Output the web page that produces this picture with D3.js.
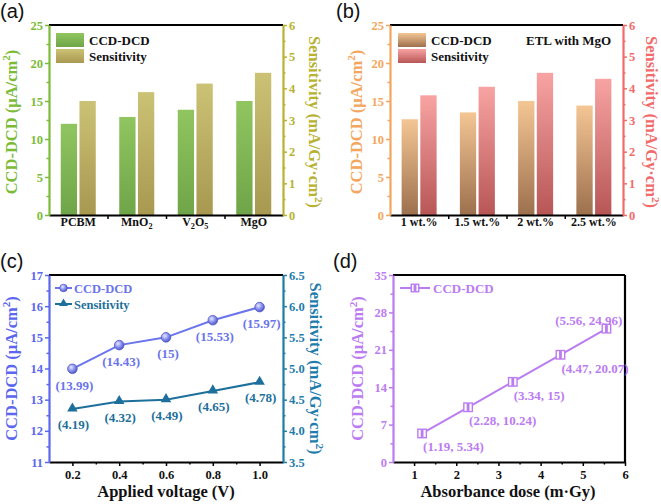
<!DOCTYPE html>
<html lang="en">
<head>
<meta charset="UTF-8">
<title>CCD-DCD and sensitivity panels</title>
<script src="https://d3js.org/d3.v7.min.js"></script>
<style>
    body { margin: 0; background: #fff; }
    svg { display: block; }
    text { font-family: 'Liberation Serif', 'Times New Roman', serif; font-weight: bold; }
    .plabel { font-family: 'Liberation Sans', Arial, sans-serif; font-weight: normal; font-size: 20px; }
</style>
</head>
<body>
<svg id="fig" width="661" height="504"></svg>
<script>
    // (a) ETL materials
    const catsA = ["PCBM", "MnO2", "V2O5", "MgO"];
    const ccdA = [12.0, 12.9, 13.85, 15.0];
    const sensA = [3.6, 3.88, 4.15, 4.49];

    // (b) MgO concentration
    const catsB = ["1 wt.%", "1.5 wt.%", "2 wt.%", "2.5 wt.%"];
    const ccdB = [12.6, 13.5, 15.0, 14.4];
    const sensB = [3.78, 4.05, 4.49, 4.3];

    // (c) applied voltage - marker heights as drawn, labels as printed
    const voltC = [0.2, 0.4, 0.6, 0.8, 1.0];
    const ccdC = [13.99, 14.75, 15, 15.55, 15.97];
    const sensC = [4.35, 4.47, 4.5, 4.64, 4.78];
    const ccdLabelsC = ["13.99", "14.43", "15", "15.53", "15.97"];
    const sensLabelsC = ["4.19", "4.32", "4.49", "4.65", "4.78"];

    // (d) dose
    const doseD = [1.19, 2.28, 3.34, 4.47, 5.56];
    const ccdD = [5.34, 10.24, 15, 20.07, 24.96];

    const svg = d3.select("#fig");
    const defs = svg.append("defs");

    function vGrad(id, top, bottom) {
        const g = defs.append("linearGradient").attr("id", id)
            .attr("x1", 0).attr("y1", 0).attr("x2", 0).attr("y2", 1);
        g.append("stop").attr("offset", "0%").attr("stop-color", top);
        g.append("stop").attr("offset", "100%").attr("stop-color", bottom);
    }
    vGrad("gA1", "#90c560", "#6fa548");
    vGrad("gA2", "#cbc275", "#a89850");
    vGrad("gB1", "#f4c694", "#9d704e");
    vGrad("gB2", "#f8a3a3", "#b85656");

    const rg = defs.append("radialGradient").attr("id", "ball").attr("cx", "38%").attr("cy", "35%").attr("r", "65%");
    rg.append("stop").attr("offset", "0%").attr("stop-color", "#e6e8ff");
    rg.append("stop").attr("offset", "55%").attr("stop-color", "#8b91ee");
    rg.append("stop").attr("offset", "100%").attr("stop-color", "#5158c8");

    // text with chemical subscripts / superscripts
    function richText(sel, str, size) {
        sel.text(null);
        const parts = str.match(/(\^\d|_\d|[^_^]+)/g);
        let shift = 0;
        parts.forEach(p => {
            const t = sel.append("tspan");
            if (p[0] === "_" || p[0] === "^") {
                const d = p[0] === "_" ? size * 0.28 : -size * 0.38;
                t.attr("dy", d - shift).attr("font-size", size * 0.68).text(p.slice(1));
                shift = d;
            } else {
                t.attr("dy", -shift).text(p);
                shift = 0;
            }
        });
    }
    const chem = s => s.replace(/([A-Za-z])(\d)/g, "$1_$2");

    function yAxis(g, scale, side, x, color, ticks, minor, fmt) {
        const mk = side === "left" ? d3.axisLeft : d3.axisRight;
        const gm = g.append("g").attr("transform", `translate(${x},0)`)
            .call(mk(scale).tickValues(minor).tickSize(2.5).tickFormat(""));
        gm.select(".domain").remove();
        gm.selectAll("line").attr("stroke", color).attr("stroke-width", 1.5);
        const ga = g.append("g").attr("transform", `translate(${x},0)`)
            .call(mk(scale).tickValues(ticks).tickSize(4).tickSizeOuter(0).tickPadding(2).tickFormat(fmt));
        ga.select(".domain").attr("stroke", color).attr("stroke-width", 2.2);
        ga.selectAll("line").attr("stroke", color).attr("stroke-width", 1.5);
        ga.selectAll("text").attr("fill", color).attr("font-size", 12.5)
            .attr("font-family", "'Liberation Serif', serif").attr("font-weight", "bold");
    }

    function frameLine(g, x1, y1, x2, y2, color) {
        g.append("line").attr("x1", x1).attr("y1", y1).attr("x2", x2).attr("y2", y2)
            .attr("stroke", color || "#000").attr("stroke-width", 2.2);
    }

    function yTitle(g, x, y, rot, str, color) {
        const t = g.append("text").attr("transform", `translate(${x},${y}) rotate(${rot})`)
            .attr("text-anchor", "middle").attr("dy", "0.35em")
            .attr("font-size", 16.5).attr("fill", color);
        richText(t, str, 16.5);
    }

    function legendSwatch(g, x, y, grad, label) {
        g.append("rect").attr("x", x).attr("y", y).attr("width", 28).attr("height", 14).attr("fill", `url(#${grad})`);
        g.append("text").attr("x", x + 33).attr("y", y + 12).attr("font-size", 13).attr("fill", "#111").text(label);
    }

    // ---------- bar panels ----------
    function barPanel(box, cats, ccd, sens, colL, colR, g1, g2, offL, offR) {
        const g = svg.append("g");
        const x = d3.scaleBand().domain(cats).range([box.x0, box.x1]);
        const yL = d3.scaleLinear().domain([0, 25]).range([box.y1, box.y0]);
        const yR = d3.scaleLinear().domain([0, 6]).range([box.y1, box.y0]);
        const bw = 16.3, gap = 1.2;

        g.selectAll(".b1").data(cats).join("rect")
            .attr("x", d => x(d) + x.bandwidth() / 2 - gap - bw)
            .attr("y", (d, i) => yL(ccd[i])).attr("width", bw)
            .attr("height", (d, i) => box.y1 - yL(ccd[i])).attr("fill", `url(#${g1})`);
        g.selectAll(".b2").data(cats).join("rect")
            .attr("x", d => x(d) + x.bandwidth() / 2 + gap)
            .attr("y", (d, i) => yR(sens[i])).attr("width", bw)
            .attr("height", (d, i) => box.y1 - yR(sens[i])).attr("fill", `url(#${g2})`);

        frameLine(g, box.x0, box.y0, box.x1, box.y0);
        // boundary ticks on the bottom axis
        const xi = d3.scaleLinear().domain([0, cats.length]).range([box.x0, box.x1]);
        const gt = g.append("g").attr("transform", `translate(0,${box.y1})`)
            .call(d3.axisBottom(xi).tickValues(d3.range(1, cats.length)).tickSize(4).tickFormat(""));
        gt.select(".domain").remove();
        gt.selectAll("line").attr("stroke", "#000").attr("stroke-width", 1.5);
        const gb = g.append("g").attr("transform", `translate(0,${box.y1})`)
            .call(d3.axisBottom(x).tickSize(0).tickPadding(11));
        gb.select(".domain").attr("stroke", "#000").attr("stroke-width", 2.2);
        gb.selectAll("text").attr("fill", "#111").attr("font-size", 12)
            .attr("font-family", "'Liberation Serif', serif").attr("font-weight", "bold")
            .each(function (d) { richText(d3.select(this), chem(d), 12); });

        yAxis(g, yL, "left", box.x0, colL, d3.range(0, 26, 5), d3.range(2.5, 25, 5), d3.format("d"));
        yAxis(g, yR, "right", box.x1, colR, d3.range(0, 7, 1), d3.range(0.5, 6, 1), d3.format("d"));
        const my = (box.y0 + box.y1) / 2;
        yTitle(g, box.x0 - offL, my + 2, -90, "CCD-DCD (\u03bcA/cm^2)", colL);
        yTitle(g, box.x1 + offR, my + 2, 90, "Sensitivity (mA/Gy\u00b7cm^2)", colR);
        const lx = box.x0 + (box.x0 > 300 ? 8 : 7);
        legendSwatch(g, lx, box.y0 + 8, g1, "CCD-DCD");
        legendSwatch(g, lx, box.y0 + 24, g2, "Sensitivity");
        return g;
    }

    const A = { x0: 49, x1: 283, y0: 25, y1: 215 };
    const B = { x0: 390, x1: 623, y0: 25, y1: 215 };
    const C = { x0: 49, x1: 283, y0: 275, y1: 462 };
    const D = { x0: 393, x1: 625, y0: 275, y1: 462 };

    barPanel(A, catsA, ccdA, sensA, "#7cbb38", "#b7b231", "gA1", "gA2", 32.5, 26);
    const gB = barPanel(B, catsB, ccdB, sensB, "#f4a65e", "#f26a6a", "gB1", "gB2", 28.5, 22.5);
    gB.append("text").attr("x", 526).attr("y", 45).attr("font-size", 13).attr("fill", "#111").text("ETL with MgO");

    // ---------- (c) line panel ----------
    const colC1 = "#6a74ec", colC2 = "#1d6f9c", colC1ax = "#5b67ee", colC2ax = "#1f7cab";
    {
        const g = svg.append("g");
        const x = d3.scaleLinear().domain([0.1, 1.1]).range([C.x0, C.x1]);
        const yL = d3.scaleLinear().domain([11, 17]).range([C.y1, C.y0]);
        const yR = d3.scaleLinear().domain([3.5, 6.5]).range([C.y1, C.y0]);

        frameLine(g, C.x0, C.y0, C.x1, C.y0);
        const gm = g.append("g").attr("transform", `translate(0,${C.y1})`)
            .call(d3.axisBottom(x).tickValues([0.3, 0.5, 0.7, 0.9]).tickSize(2.5).tickFormat(""));
        gm.select(".domain").remove();
        gm.selectAll("line").attr("stroke", "#000").attr("stroke-width", 1.5);
        const gb = g.append("g").attr("transform", `translate(0,${C.y1})`)
            .call(d3.axisBottom(x).tickValues(voltC).tickSize(4).tickSizeOuter(0).tickPadding(4).tickFormat(d3.format(".1f")));
        gb.select(".domain").attr("stroke", "#000").attr("stroke-width", 2.2);
        gb.selectAll("line").attr("stroke", "#000").attr("stroke-width", 1.5);
        gb.selectAll("text").attr("fill", "#111").attr("font-size", 12.5)
            .attr("font-family", "'Liberation Serif', serif").attr("font-weight", "bold");

        yAxis(g, yL, "left", C.x0, colC1ax, d3.range(11, 18), d3.range(11.5, 17, 1), d3.format("d"));
        yAxis(g, yR, "right", C.x1, colC2ax, d3.range(3.5, 6.6, 0.5), d3.range(3.75, 6.5, 0.5), d3.format(".1f"));
        const my = (C.y0 + C.y1) / 2;
        yTitle(g, C.x0 - 32.5, my, -90, "CCD-DCD (\u03bcA/cm^2)", colC1ax);
        yTitle(g, C.x1 + 27, my, 90, "Sensitivity (mA/Gy\u00b7cm^2)", colC2ax);
        g.append("text").attr("x", (C.x0 + C.x1) / 2).attr("y", 497).attr("text-anchor", "middle")
            .attr("font-size", 16.5).attr("fill", "#111").text("Applied voltage (V)");

        const l1 = d3.line().x((d, i) => x(voltC[i])).y(d => yL(d));
        const l2 = d3.line().x((d, i) => x(voltC[i])).y(d => yR(d));
        g.append("path").attr("d", l1(ccdC)).attr("fill", "none").attr("stroke", colC1).attr("stroke-width", 2);
        g.append("path").attr("d", l2(sensC)).attr("fill", "none").attr("stroke", colC2).attr("stroke-width", 2);
        const tri = d3.symbol().type(d3.symbolTriangle).size(48);
        g.selectAll(".m1").data(ccdC).join("circle")
            .attr("cx", (d, i) => x(voltC[i])).attr("cy", d => yL(d)).attr("r", 4.8)
            .attr("fill", "url(#ball)").attr("stroke", "#5058c8").attr("stroke-width", 0.8);
        g.selectAll(".m2").data(sensC).join("path").attr("d", tri)
            .attr("transform", (d, i) => `translate(${x(voltC[i])},${yR(d) - 0.5})`).attr("fill", colC2);
        g.selectAll(".t1").data(ccdC).join("text")
            .attr("x", (d, i) => x(voltC[i]) + 2).attr("y", d => yL(d) + 21).attr("text-anchor", "middle")
            .attr("font-size", 13).attr("fill", colC1).text((d, i) => `(${ccdLabelsC[i]})`);
        g.selectAll(".t2").data(sensC).join("text")
            .attr("x", (d, i) => x(voltC[i]) + 1).attr("y", d => yR(d) + 20).attr("text-anchor", "middle")
            .attr("font-size", 13).attr("fill", colC2).text((d, i) => `(${sensLabelsC[i]})`);

        // legend
        [[288, colC1, "CCD-DCD"], [304, colC2, "Sensitivity"]].forEach(([ly, c, lab], k) => {
            g.append("line").attr("x1", 55).attr("x2", 72).attr("y1", ly).attr("y2", ly).attr("stroke", c).attr("stroke-width", 2);
            if (k === 0) g.append("circle").attr("cx", 63.5).attr("cy", ly).attr("r", 3.8).attr("fill", "url(#ball)").attr("stroke", "#5058c8").attr("stroke-width", 0.7);
            else g.append("path").attr("d", d3.symbol().type(d3.symbolTriangle).size(34)).attr("transform", `translate(63.5,${ly - 0.5})`).attr("fill", c);
            g.append("text").attr("x", 74).attr("y", ly + 5).attr("font-size", 12.5).attr("fill", c).text(lab);
        });
    }

    // ---------- (d) dose panel ----------
    {
        const col = "#bb7cf2";
        const g = svg.append("g");
        const x = d3.scaleLinear().domain([0.5, 6]).range([D.x0, D.x1]);
        const y = d3.scaleLinear().domain([0, 35]).range([D.y1, D.y0]);

        frameLine(g, D.x0, D.y0, D.x1, D.y0);
        frameLine(g, D.x1, D.y0, D.x1, D.y1);
        const gm = g.append("g").attr("transform", `translate(0,${D.y1})`)
            .call(d3.axisBottom(x).tickValues(d3.range(1.5, 6, 1)).tickSize(2.5).tickFormat(""));
        gm.select(".domain").remove();
        gm.selectAll("line").attr("stroke", "#000").attr("stroke-width", 1.5);
        const gb = g.append("g").attr("transform", `translate(0,${D.y1})`)
            .call(d3.axisBottom(x).tickValues(d3.range(1, 7)).tickSize(4).tickSizeOuter(0).tickPadding(4).tickFormat(d3.format("d")));
        gb.select(".domain").attr("stroke", "#000").attr("stroke-width", 2.2);
        gb.selectAll("line").attr("stroke", "#000").attr("stroke-width", 1.5);
        gb.selectAll("text").attr("fill", "#111").attr("font-size", 12.5)
            .attr("font-family", "'Liberation Serif', serif").attr("font-weight", "bold");

        yAxis(g, y, "left", D.x0, col, d3.range(0, 36, 7), d3.range(3.5, 35, 7), d3.format("d"));
        yTitle(g, D.x0 - 30, (D.y0 + D.y1) / 2, -90, "CCD-DCD (\u03bcA/cm^2)", col);
        g.append("text").attr("x", 508).attr("y", 497).attr("text-anchor", "middle")
            .attr("font-size", 16.5).attr("fill", "#111").text("Absorbance dose (m\u00b7Gy)");

        const line = d3.line().x((d, i) => x(doseD[i])).y(d => y(d));
        g.append("path").attr("d", line(ccdD)).attr("fill", "none").attr("stroke", col).attr("stroke-width", 2);

        function sq(sel, cx, cy, s) {
            sel.append("rect").attr("x", cx - s / 2).attr("y", cy - s / 2).attr("width", s).attr("height", s)
                .attr("fill", "#fff").attr("stroke", col).attr("stroke-width", 1.4);
            sel.append("rect").attr("x", cx - 1.4).attr("y", cy - s / 2).attr("width", 2.8).attr("height", s).attr("fill", col);
        }
        ccdD.forEach((d, i) => sq(g, x(doseD[i]), y(d), 8.5));

        g.selectAll(".t").data(ccdD).join("text")
            .attr("x", (d, i) => i === ccdD.length - 1 ? x(doseD[i]) + 16 : x(doseD[i]) + 1)
            .attr("y", (d, i) => i === ccdD.length - 1 ? y(d) - 4 : y(d) + 18)
            .attr("text-anchor", (d, i) => i === ccdD.length - 1 ? "end" : "start")
            .attr("font-size", 13).attr("fill", col).text((d, i) => `(${doseD[i]}, ${d})`);

        g.append("line").attr("x1", 400).attr("x2", 430).attr("y1", 288).attr("y2", 288).attr("stroke", col).attr("stroke-width", 2);
        sq(g, 415, 288, 7.5);
        g.append("text").attr("x", 433).attr("y", 293).attr("font-size", 13).attr("fill", col).text("CCD-DCD");
    }

    // panel labels
    [["(a)", 0, 18], ["(b)", 336, 18], ["(c)", 0, 268], ["(d)", 333, 268]].forEach(([t, px, py]) => {
        svg.append("text").attr("class", "plabel").attr("x", px).attr("y", py).attr("fill", "#111").text(t);
    });
</script>
</body>
</html>
